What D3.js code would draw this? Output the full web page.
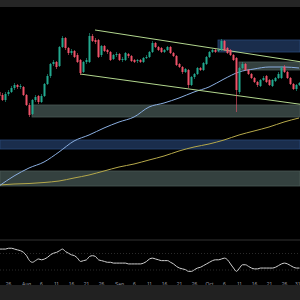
<!DOCTYPE html>
<html>
<head>
<meta charset="utf-8">
<script src="https://cdn.jsdelivr.net/npm/d3@7"></script>
<style>
html, body { margin: 0; padding: 0; background: #000; }
svg { display: block; }
</style>
</head>
<body>
<div id="chart"></div>
<script>
// daily candles, first one on this day
var firstDay = "2024-07-23";

var open = [2532,2520,2500,2524,2532,2548,2560,2552,2552,2520,2480,2444,2500,2516,2492,2516,2564,2596,2644,2652,
  2636,2712,2748,2708,2688,2696,2680,2660,2612,2652,2652,2756,2740,2740,2680,2716,2700,2692,2664,2680,
  2684,2660,2660,2684,2676,2660,2656,2660,2652,2668,2672,2692,2728,2712,2708,2692,2700,2712,2688,2676,
  2644,2632,2612,2620,2560,2592,2604,2628,2620,2644,2672,2692,2700,2696,2700,2736,2708,2700,2680,2668,
  2532,2628,2644,2620,2604,2588,2572,2556,2580,2596,2580,2556,2576,2588,2588,2632,2612,2588,2564,2544,2560];
var high = [2540,2528,2532,2540,2556,2568,2564,2564,2556,2524,2488,2504,2520,2520,2524,2568,2604,2648,2660,2656,
  2716,2756,2752,2712,2704,2700,2688,2664,2656,2668,2768,2764,2748,2744,2720,2720,2704,2696,2684,2692,
  2688,2672,2692,2688,2680,2664,2664,2664,2672,2680,2696,2736,2732,2716,2712,2704,2716,2716,2692,2680,
  2648,2636,2628,2624,2596,2608,2632,2632,2652,2676,2696,2704,2704,2704,2744,2740,2712,2704,2684,2672,
  2632,2652,2648,2624,2608,2592,2576,2584,2596,2600,2584,2584,2592,2612,2636,2640,2616,2592,2568,2564,2572];
var low = [2508,2496,2492,2516,2528,2540,2544,2544,2516,2476,2432,2440,2492,2484,2488,2512,2560,2588,2636,2624,
  2632,2708,2700,2680,2680,2668,2648,2600,2608,2644,2648,2732,2724,2668,2672,2692,2684,2656,2660,2672,
  2656,2652,2656,2668,2652,2648,2648,2648,2648,2664,2668,2688,2708,2696,2688,2688,2696,2684,2672,2636,
  2628,2604,2608,2548,2556,2584,2600,2616,2616,2640,2668,2688,2688,2692,2696,2696,2684,2676,2656,2452,
  2524,2624,2616,2600,2584,2568,2552,2552,2576,2568,2556,2552,2572,2584,2584,2608,2584,2560,2540,2536,2556];
var close = [2516,2500,2524,2532,2548,2560,2552,2556,2520,2480,2440,2500,2512,2492,2516,2564,2596,2644,2652,2632,
  2712,2748,2708,2688,2696,2672,2652,2608,2652,2660,2756,2736,2732,2672,2716,2696,2692,2660,2680,2684,
  2660,2664,2688,2676,2656,2652,2660,2652,2668,2672,2692,2728,2712,2700,2692,2700,2712,2688,2676,2640,
  2632,2612,2624,2560,2592,2604,2628,2620,2648,2672,2692,2700,2692,2700,2736,2700,2688,2680,2660,2540,
  2628,2644,2620,2604,2588,2572,2560,2580,2588,2572,2560,2580,2588,2604,2628,2612,2588,2564,2544,2560,2568];

// RSI, one value per candle
var rsi = [59,59,59,60,60,59,58,57,55,51,45,43,45,47,46,47,49,52,54,55,
  57,59,56,54,52,51,48,44,45,46,50,51,50,46,45,44,43,43,42,42,
  42,42,42,41,41,41,41,41,42,44,47,48,47,46,45,45,45,43,41,38,
  36,35,34,32,32,34,36,37,39,41,43,45,46,46,47,48,46,41,36,32,
  36,40,40,38,36,35,35,36,36,36,36,36,37,39,41,42,41,39,37,36,36];

// moving averages, one value every 5 days from firstDay
var maFast = [2156,2196,2228,2252,2292,2336,2360,2388,2412,2432,2472,2488,2508,2532,2552,2584,2612,2624,2632,2632,2628];
var maSlow = [2160,2164,2166,2170,2176,2188,2200,2216,2232,2244,2260,2276,2296,2312,2324,2340,2360,2376,2392,2412,2428];

// channel
var upperDates = ["2024-08-24","2024-11-01"], upperPrices = [2780,2652];
var lowerDates = ["2024-08-19","2024-11-01"], lowerPrices = [2604,2482];

// zones
var zoneStart = ["2024-08-03","2024-10-04","2024-10-11","2024-07-01","2024-07-01"];
var zoneTop = [2480,2740,2652,2340,2216];
var zoneBottom = [2432,2692,2620,2304,2156];
var zoneKind = ["gray","blue","gray","blue","gray"];

var tickDates = ["2024-07-26","2024-08-01","2024-08-06","2024-08-11","2024-08-16","2024-08-21","2024-08-26",
  "2024-09-01","2024-09-06","2024-09-11","2024-09-16","2024-09-21","2024-09-26",
  "2024-10-01","2024-10-06","2024-10-11","2024-10-16","2024-10-21","2024-10-26","2024-10-31"];
var tickLabels = ["26","Aug","6","11","16","21","26","Sep","6","11","16","21","26","Oct","6","11","16","21","26","31"];

var width = 300, height = 300;
var parse = d3.utcParse("%Y-%m-%d");
var day0 = parse(firstDay);

var svg = d3.select("#chart").append("svg")
    .attr("width", width)
    .attr("height", height);

svg.append("rect").attr("width", width).attr("height", height).attr("fill", "#000");

var x = d3.scaleUtc()
    .domain([day0, parse("2024-11-01")])
    .range([-1, 302]);
var y = d3.scaleLinear().domain([2000, 2900]).range([225, 0]);
var yRsi = d3.scaleLinear().domain([30, 70]).range([273, 240]);

var candles = close.map(function(c, i) {
  return { date: d3.utcDay.offset(day0, i), o: open[i], h: high[i], l: low[i], c: c };
});

// zones
var zoneFill = { gray: "#34413f", blue: "#1a2d4c" };
var zoneEdge = { gray: "#4a5856", blue: "#2a4777" };
zoneTop.forEach(function(t, i) {
  var x0 = Math.max(0, x(parse(zoneStart[i])));
  svg.append("rect")
      .attr("x", x0)
      .attr("y", y(t))
      .attr("width", width - x0)
      .attr("height", y(zoneBottom[i]) - y(t))
      .attr("fill", zoneFill[zoneKind[i]])
      .attr("stroke", zoneEdge[zoneKind[i]])
      .attr("stroke-width", 0.8);
});

// moving averages
function maLine(vals, color) {
  var pts = vals.map(function(v, i) { return [d3.utcDay.offset(day0, i * 5), v]; });
  svg.append("path")
      .datum(pts)
      .attr("fill", "none")
      .attr("stroke", color)
      .attr("stroke-width", 1)
      .attr("d", d3.line().curve(d3.curveMonotoneX)
        .x(function(d) { return x(d[0]); })
        .y(function(d) { return y(d[1]); }));
}
maLine(maSlow, "#b5a84a");
maLine(maFast, "#8aaee0");

// channel lines
function chLine(dates, prices) {
  svg.append("line")
      .attr("x1", x(parse(dates[0]))).attr("y1", y(prices[0]))
      .attr("x2", x(parse(dates[1]))).attr("y2", y(prices[1]))
      .attr("stroke", "#b2d68e")
      .attr("stroke-width", 1);
}
chLine(upperDates, upperPrices);
chLine(lowerDates, lowerPrices);

// candles
var up = "#22a98f", down = "#ef5369";
var g = svg.append("g");
g.selectAll("line.wick").data(candles).enter().append("line")
    .attr("x1", function(d) { return x(d.date) + 0.5; })
    .attr("x2", function(d) { return x(d.date) + 0.5; })
    .attr("y1", function(d) { return y(d.h); })
    .attr("y2", function(d) { return y(d.l); })
    .attr("stroke", function(d) { return d.c >= d.o ? up : down; })
    .attr("stroke-width", 0.6);
g.selectAll("rect.body").data(candles).enter().append("rect")
    .attr("x", function(d) { return x(d.date) - 0.5; })
    .attr("width", 2)
    .attr("y", function(d) { return y(Math.max(d.o, d.c)); })
    .attr("height", function(d) { return Math.max(1, Math.abs(y(d.o) - y(d.c))); })
    .attr("fill", function(d) { return d.c >= d.o ? up : down; });

// RSI pane
svg.append("line").attr("x1", 0).attr("x2", width)
    .attr("y1", yRsi(70)).attr("y2", yRsi(70))
    .attr("stroke", "#333").attr("stroke-width", 1);
[50, 30].forEach(function(v) {
  svg.append("line").attr("x1", 0).attr("x2", width)
      .attr("y1", yRsi(v) - 3).attr("y2", yRsi(v) - 3)
      .attr("stroke", "#2a2a2a").attr("stroke-width", 1)
      .attr("stroke-dasharray", "1,2");
});
svg.append("path")
    .datum(candles)
    .attr("fill", "none")
    .attr("stroke", "#cfcfcf")
    .attr("stroke-width", 1)
    .attr("d", d3.line().curve(d3.curveMonotoneX)
      .x(function(d) { return x(d.date) + 0.5; })
      .y(function(d, i) { return yRsi(rsi[i]); }));

// date axis
var axis = svg.append("g")
    .attr("transform", "translate(0,283)")
    .call(d3.axisBottom(x)
      .tickValues(tickDates.map(parse))
      .tickSize(0)
      .tickFormat(function(d, i) { return tickLabels[i]; }));
axis.select(".domain").remove();
axis.selectAll("text")
    .attr("y", -1)
    .attr("fill", "#9a9ca3")
    .style("font-family", "Liberation Sans, Arial, sans-serif")
    .style("font-size", "5px");
// last label sits at the right edge
axis.selectAll(".tick:last-of-type text").attr("text-anchor", "end").attr("x", 1);

// top and bottom strips
svg.append("rect").attr("x", 0).attr("y", 0).attr("width", width).attr("height", 7).attr("fill", "#252525");
svg.append("rect").attr("x", 0).attr("y", 285).attr("width", width).attr("height", 15).attr("fill", "#212121");
</script>
</body>
</html>
